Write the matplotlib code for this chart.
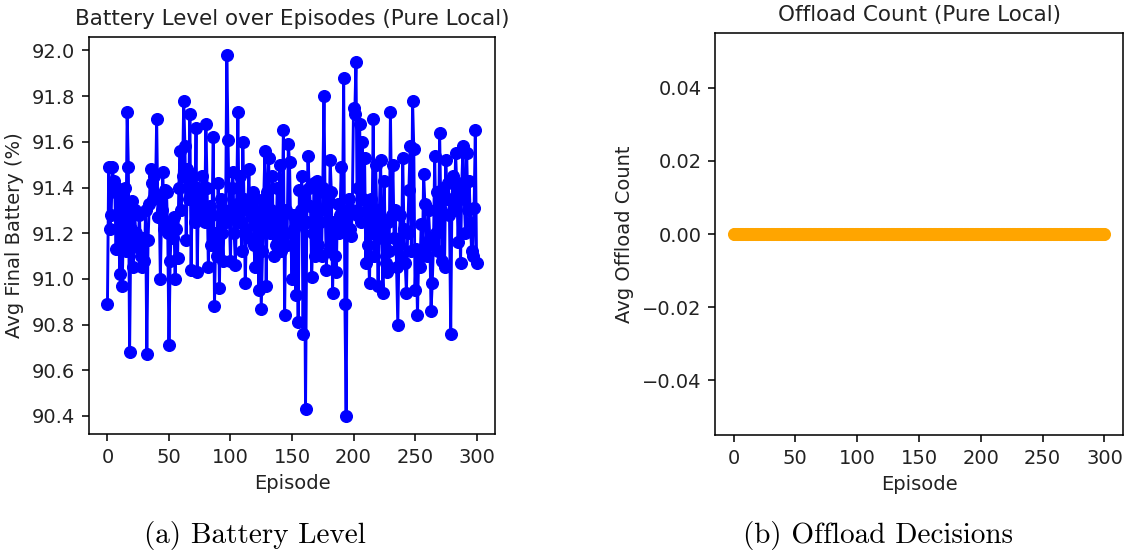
import matplotlib
matplotlib.use("Agg")
import matplotlib.pyplot as plt

battery = [
    90.89, 91.49, 91.22, 91.28, 91.49, 91.43, 91.38, 91.13, 91.40, 91.27,
    91.02, 91.38, 90.97, 91.24, 91.40, 91.12, 91.73, 91.49, 90.68, 91.22,
    91.34, 91.05, 91.30, 91.20, 91.14, 91.17, 91.28, 91.10, 91.05, 91.18,
    91.08, 91.30, 90.67, 91.17, 91.33, 91.48, 91.42, 91.35, 91.45, 91.36,
    91.70, 91.27, 91.36, 91.00, 91.30, 91.47, 91.22, 91.39, 91.38, 91.20,
    90.71, 91.08, 91.25, 91.18, 91.27, 91.00, 91.22, 91.09, 91.40, 91.56,
    91.30, 91.45, 91.78, 91.58, 91.17, 91.48, 91.35, 91.72, 91.04, 91.45,
    91.38, 91.25, 91.66, 91.03, 91.40, 91.33, 91.27, 91.45, 91.30, 91.25,
    91.68, 91.40, 91.05, 91.32, 91.15, 91.28, 91.62, 90.88, 91.20, 91.10,
    91.42, 90.96, 91.35, 91.20, 91.08, 91.30, 91.25, 91.98, 91.61, 91.28,
    91.08, 91.40, 91.47, 91.20, 91.06, 91.33, 91.73, 91.25, 91.45, 91.12,
    91.60, 91.35, 90.98, 91.22, 91.30, 91.48, 91.18, 91.32, 91.38, 91.15,
    91.05, 91.35, 91.25, 90.95, 91.30, 90.87, 91.12, 91.35, 91.56, 90.97,
    91.38, 91.53, 91.20, 91.30, 91.45, 91.10, 91.28, 91.15, 91.40, 91.20,
    91.50, 91.12, 91.28, 91.65, 90.84, 91.30, 91.15, 91.59, 91.51, 91.20,
    91.00, 91.28, 91.22, 90.93, 91.25, 90.81, 91.39, 91.30, 91.45, 90.76,
    91.36, 90.43, 91.25, 91.54, 91.40, 91.32, 91.01, 91.20, 91.42, 91.10,
    91.43, 91.15, 91.38, 91.25, 91.10, 91.40, 91.80, 91.30, 91.04, 91.35,
    91.12, 91.52, 91.38, 90.94, 91.25, 91.10, 91.03, 91.33, 91.20, 91.28,
    91.49, 91.25, 91.88, 90.89, 90.40, 91.30, 91.35, 91.22, 91.19, 91.30,
    91.75, 91.72, 91.95, 91.28, 91.40, 91.68, 91.25, 91.60, 91.35, 91.53,
    91.07, 91.30, 91.15, 90.98, 91.35, 91.20, 91.70, 91.10, 91.50, 91.25,
    90.97, 91.30, 91.52, 91.18, 90.94, 91.43, 91.07, 91.03, 91.25, 91.12,
    91.73, 91.28, 91.50, 91.18, 91.30, 91.05, 90.80, 91.15, 91.28, 91.10,
    91.53, 91.22, 91.07, 90.94, 91.20, 91.39, 91.58, 91.12, 91.78, 91.57,
    90.95, 91.13, 90.84, 91.12, 91.05, 91.24, 91.10, 91.46, 91.33, 91.15,
    91.10, 91.30, 91.18, 90.86, 90.98, 91.15, 91.54, 91.20, 91.38, 91.12,
    91.64, 91.30, 91.08, 91.40, 91.05, 91.52, 91.35, 91.42, 91.28, 90.76,
    91.35, 91.45, 91.30, 91.55, 91.40, 91.16, 91.38, 91.07, 91.42, 91.58,
    91.35, 91.20, 91.55, 91.30, 91.43, 91.25, 91.12, 91.10, 91.31, 91.65,
    91.07,
]
episodes = list(range(len(battery)))
offload = [0.0] * len(episodes)

titles = ["Battery Level over Episodes (Pure Local)", "Offload Count (Pure Local)"]
ylabels = ["Avg Final Battery (%)", "Avg Offload Count"]
captions = ["(a) Battery Level", "(b) Offload Decisions"]

S = 1.4
plt.rcParams.update({
    "font.family": "DejaVu Sans",
    "font.size": 10 * S,
    "axes.linewidth": 0.8 * S,
    "xtick.major.size": 3.5 * S,
    "ytick.major.size": 3.5 * S,
    "xtick.major.width": 0.8 * S,
    "ytick.major.width": 0.8 * S,
    "xtick.major.pad": 3.5 * S,
    "ytick.major.pad": 3.5 * S,
    "axes.titlepad": 6 * S,
    "axes.labelpad": 4 * S,
    "text.color": "#222222",
    "axes.labelcolor": "#222222",
    "xtick.labelcolor": "#222222",
    "ytick.labelcolor": "#222222",
})

fig = plt.figure(figsize=(11.25, 5.52), dpi=100)
ax1 = fig.add_axes([89 / 1125, 1 - 434 / 552, 406 / 1125, 397 / 552])
ax2 = fig.add_axes([715 / 1125, 1 - 435 / 552, 408 / 1125, 402 / 552])

ax1.plot(episodes, battery, marker="o", color="blue", linewidth=1.5 * S, markersize=6 * S)
ax2.plot(episodes, offload, marker="o", color="orange", linewidth=1.5 * S, markersize=6 * S)

ax1.set_yticks([90.4, 90.6, 90.8, 91.0, 91.2, 91.4, 91.6, 91.8, 92.0])
ax2.set_yticks([-0.04, -0.02, 0.0, 0.02, 0.04])
ax2.set_ylim(-0.055, 0.055)

for ax, t, yl in zip([ax1, ax2], titles, ylabels):
    ax.set_title(t, fontsize=15.5)
    ax.set_xlabel("Episode")
    ax.set_ylabel(yl)
    ax.set_xticks([0, 50, 100, 150, 200, 250, 300])

fig.text(255 / 1125, 1 - 536 / 552, captions[0], ha="center", va="center",
         fontfamily="cmr10", fontsize=21, color="black")
fig.text(878 / 1125, 1 - 536 / 552, captions[1], ha="center", va="center",
         fontfamily="cmr10", fontsize=21, color="black")

fig.savefig("out.png", dpi=100)
